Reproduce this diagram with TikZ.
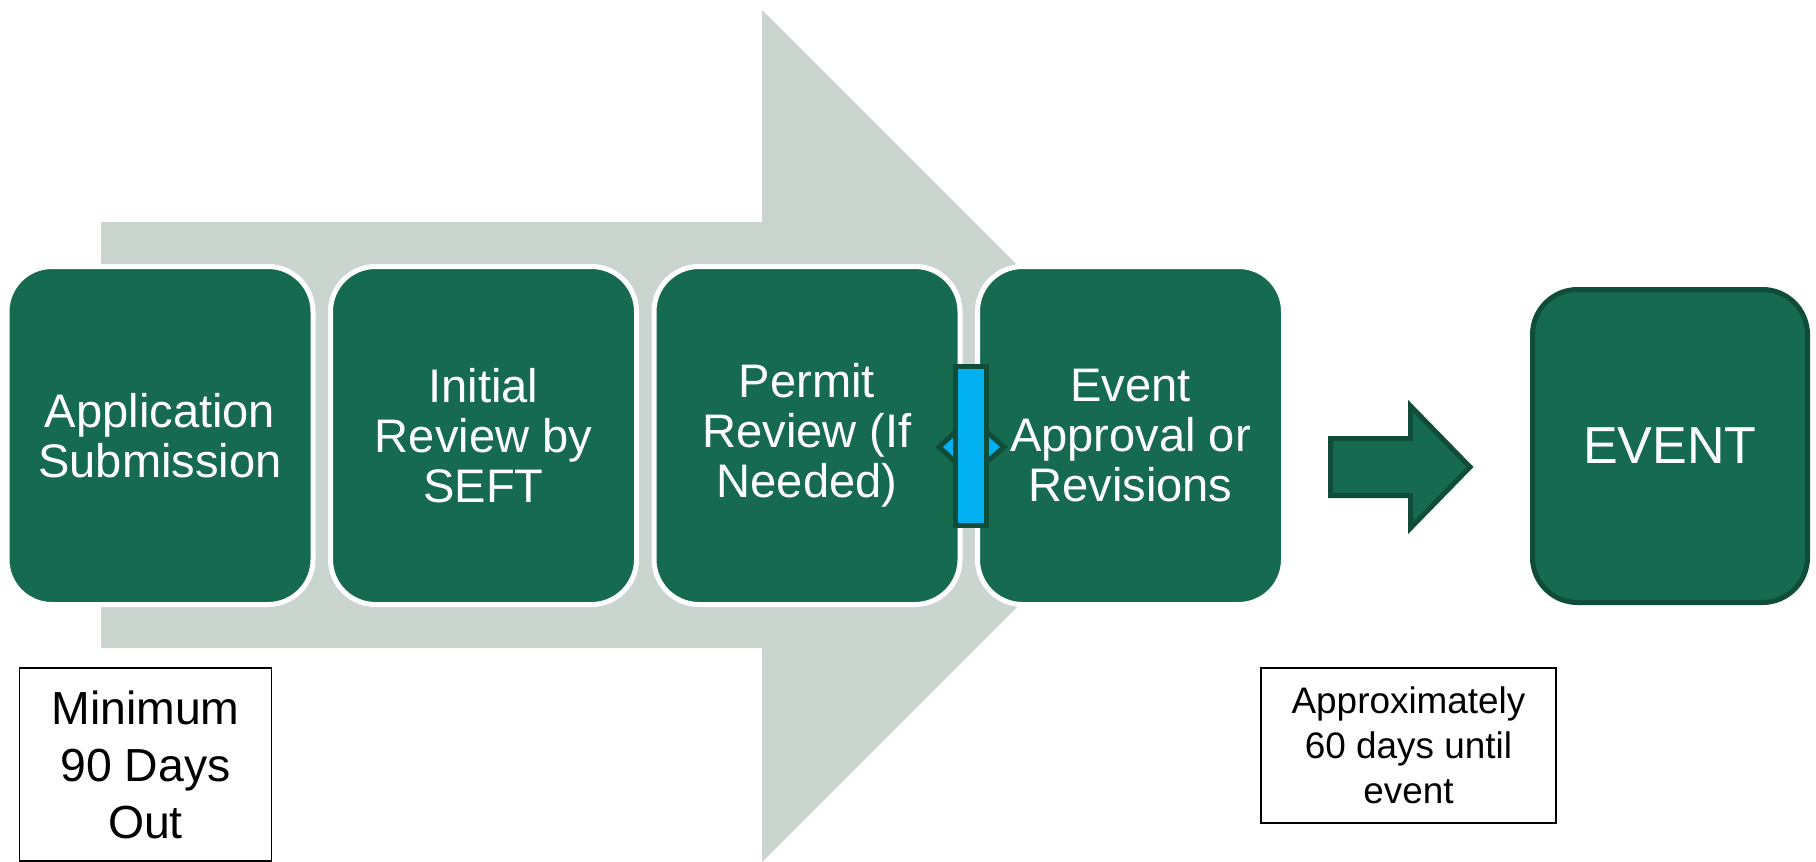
\documentclass[tikz,border=0pt]{standalone}
\usepackage{fontspec}
\setmainfont{Liberation Sans}
\definecolor{stepgreen}{HTML}{166A50}
\definecolor{darkgreen}{HTML}{0F4D38}
\definecolor{arrowgray}{HTML}{CBD5D0}
\definecolor{linkblue}{HTML}{00B0F0}
\begin{document}
\begin{tikzpicture}
      [x=0.1mm, y=-0.1mm,
       stepbox/.style={rounded corners=4.5mm, fill=stepgreen, draw=white, line width=0.5mm,
         minimum width=30.6mm, minimum height=33.8mm, text=white, align=center,
         font=\fontsize{13.4}{14.2}\selectfont},
       notebox/.style={draw=black, line width=0.4pt, align=center, inner sep=0pt}]
      \useasboundingbox (0, 0) rectangle (1816, 862);
      \fill[arrowgray] (101, 222) -- (762, 222) -- (762, 10) -- (1188, 436)
        -- (762, 862) -- (762, 648) -- (101, 648) -- cycle;
      \node[stepbox](1) at (160, 435.5) {Application\\Submission};
      \node[stepbox](2) at (483.5, 435.5) {Initial\\Review by\\SEFT};
      \node[stepbox](3) at (807, 435.5) {Permit\\Review (If\\Needed)};
      \node[stepbox](4) at (1130.5, 435.5) {Event\\Approval or\\Revisions};
      \node[stepbox, draw=darkgreen, minimum width=27.5mm, minimum height=31.3mm,
        font=\fontsize{14.8}{16}\selectfont](5) at (1670, 446) {EVENT};
      \node[notebox, minimum width=25.2mm, minimum height=19.3mm,
        font=\fontsize{13.2}{16.2}\selectfont](6) at (145.5, 764.5) {Minimum\\90 Days\\Out};
      \node[notebox, minimum width=29.5mm, minimum height=15.5mm,
        font=\fontsize{10.5}{12.8}\selectfont](7) at (1408.5, 745.5) {Approximately\\60 days until\\event};
      \draw[fill=linkblue, draw=darkgreen, line width=0.5mm, line join=miter]
        (939, 447) -- (961, 427) -- (961, 440) -- (981, 440) -- (981, 427) -- (1004, 447)
        -- (981, 467) -- (981, 454) -- (961, 454) -- (961, 467) -- cycle;
      \draw[fill=linkblue, draw=darkgreen, line width=0.5mm] (955.5, 366.5) rectangle (986.5, 525.5);
      \draw[fill=stepgreen, draw=darkgreen, line width=0.5mm, line join=miter]
        (1330.5, 438.5) -- (1410.5, 438.5) -- (1410.5, 406) -- (1470, 467) -- (1410.5, 528)
        -- (1410.5, 495.5) -- (1330.5, 495.5) -- cycle;
  \end{tikzpicture}
\end{document}
